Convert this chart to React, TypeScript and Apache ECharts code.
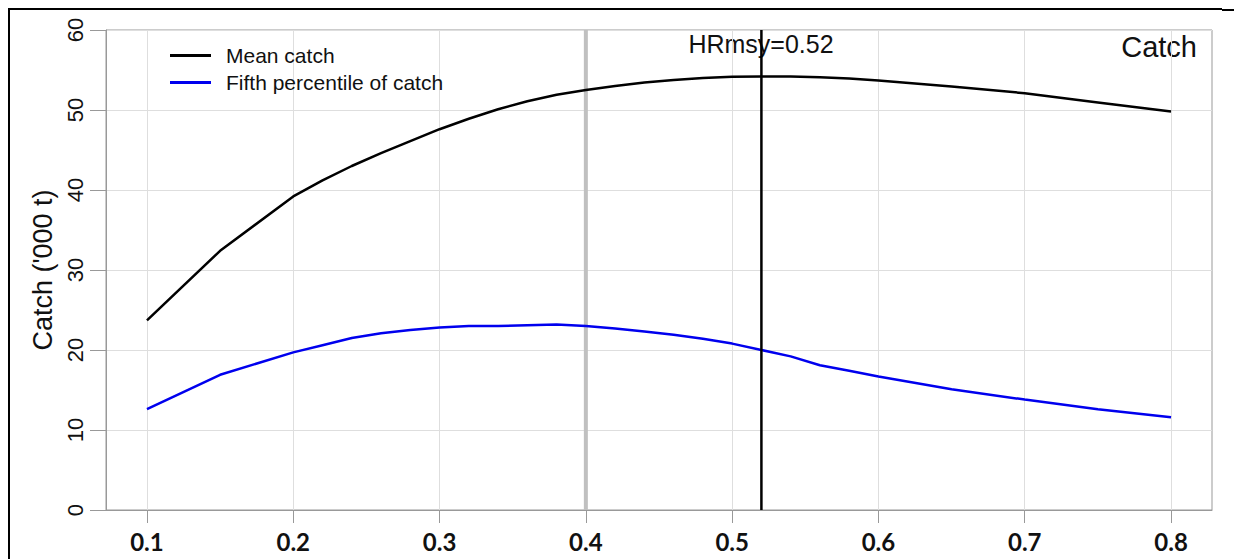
import React, { useEffect, useRef } from "react";
import * as echarts from "echarts";

const harvestRates = [0.1, 0.15, 0.2, 0.22, 0.24, 0.26, 0.28, 0.3, 0.32, 0.34, 0.36, 0.38, 0.4, 0.42, 0.44, 0.46, 0.48, 0.5, 0.52, 0.54, 0.56, 0.58, 0.6, 0.65, 0.7, 0.75, 0.8];
const meanCatch = [23.7, 32.4, 39.2, 41.2, 43.0, 44.6, 46.1, 47.6, 48.9, 50.1, 51.1, 51.9, 52.5, 53.0, 53.45, 53.75, 54.0, 54.15, 54.2, 54.2, 54.1, 53.95, 53.7, 52.95, 52.1, 50.95, 49.8];
const fifthPercentile = [12.6, 16.9, 19.7, 20.6, 21.5, 22.1, 22.5, 22.8, 23.0, 23.0, 23.1, 23.2, 23.0, 22.7, 22.3, 21.9, 21.4, 20.8, 20.0, 19.2, 18.1, 17.4, 16.7, 15.1, 13.8, 12.6, 11.6];
const xTicks = [0.1, 0.2, 0.3, 0.4, 0.5, 0.6, 0.7, 0.8];
const refRate = 0.4;
const hrMsy = 0.52;
const seriesNames = ["Mean catch", "Fifth percentile of catch"];

const SANS = '"Liberation Sans", Arial, sans-serif';

export default function App() {
  const ref = useRef<HTMLDivElement>(null);
  useEffect(() => {
    if (!ref.current) return;
    const chart = echarts.init(ref.current, null, { renderer: "svg" });
    const zip = (ys: number[]) => harvestRates.map((x, i) => [x, ys[i]]);
    chart.setOption({
      animation: false,
      backgroundColor: "#fff",
      grid: {
        left: 106,
        right: 22,
        top: 30,
        bottom: 49,
        show: true,
        borderColor: "#999",
        borderWidth: 1,
        backgroundColor: "transparent",
        outerBoundsMode: "none",
      },
      legend: {
        data: seriesNames,
        orient: "vertical",
        left: 165,
        top: 40,
        icon: "rect",
        itemWidth: 41,
        itemHeight: 3,
        itemGap: 6,
        textStyle: {
          fontFamily: SANS,
          fontSize: 21,
          color: "#111",
          padding: [0, 0, 0, 10],
        },
      },
      xAxis: {
        type: "value",
        min: 0.072,
        max: 0.828,
        axisLine: { show: true, onZero: false, lineStyle: { color: "#999", width: 1 } },
        axisTick: { show: true, customValues: xTicks, length: 13, lineStyle: { color: "#999" } },
        axisLabel: {
          customValues: xTicks,
          margin: 19,
          fontFamily: "Lato, sans-serif",
          fontWeight: "bold",
          fontSize: 24,
          color: "#111",
          formatter: (v: number) => v.toFixed(1),
        },
        splitLine: { show: true, lineStyle: { color: "#dedede", width: 1 } },
      },
      yAxis: {
        type: "value",
        min: 0,
        max: 60,
        interval: 10,
        name: "Catch ('000 t)",
        nameLocation: "middle",
        nameGap: 48,
        nameTextStyle: { fontFamily: SANS, fontSize: 27, color: "#111" },
        axisLine: { show: true, lineStyle: { color: "#999", width: 1 } },
        axisTick: { show: true, length: 16, lineStyle: { color: "#999" } },
        axisLabel: {
          rotate: 90,
          margin: 20,
          fontFamily: SANS,
          fontSize: 22,
          color: "#111",
        },
        splitLine: { show: true, lineStyle: { color: "#dedede", width: 1 } },
      },
      series: [
        {
          name: "ref",
          type: "line",
          data: [[refRate, 0], [refRate, 60]],
          showSymbol: false,
          lineStyle: { color: "#c0c0c0", width: 4 },
          silent: true,
        },
        {
          name: seriesNames[0],
          type: "line",
          data: zip(meanCatch),
          showSymbol: false,
          color: "#000",
          lineStyle: { color: "#000", width: 2.5 },
        },
        {
          name: seriesNames[1],
          type: "line",
          data: zip(fifthPercentile),
          showSymbol: false,
          color: "#0000ee",
          lineStyle: { color: "#0000ee", width: 2.5 },
        },
        {
          name: "hrmsy",
          type: "line",
          data: [[hrMsy, 0], [hrMsy, 60]],
          showSymbol: false,
          lineStyle: { color: "#000", width: 2.5 },
          silent: true,
        },
      ],
      graphic: [
        { type: "line", shape: { x1: 9, y1: 8, x2: 9, y2: 559 }, style: { stroke: "#000", lineWidth: 2 } },
        { type: "line", shape: { x1: 8, y1: 9, x2: 1222, y2: 9 }, style: { stroke: "#000", lineWidth: 2 } },
        { type: "line", shape: { x1: 1222, y1: 10, x2: 1234, y2: 10 }, style: { stroke: "#000", lineWidth: 2 } },
        {
          type: "text",
          x: 761,
          y: 44,
          style: {
            text: "HRmsy=" + hrMsy.toFixed(2),
            fontFamily: SANS,
            fontSize: 25,
            fill: "#111",
            align: "center",
            verticalAlign: "middle",
          },
        },
        {
          type: "text",
          x: 1197,
          y: 47,
          style: {
            text: "Catch",
            fontFamily: SANS,
            fontSize: 29,
            fill: "#111",
            align: "right",
            verticalAlign: "middle",
          },
        },
      ],
    });
    return () => chart.dispose();
  }, []);
  return (
    <div
      ref={ref}
      style={{ position: "fixed", left: 0, top: 0, width: 1234, height: 559 }}
    />
  );
}
